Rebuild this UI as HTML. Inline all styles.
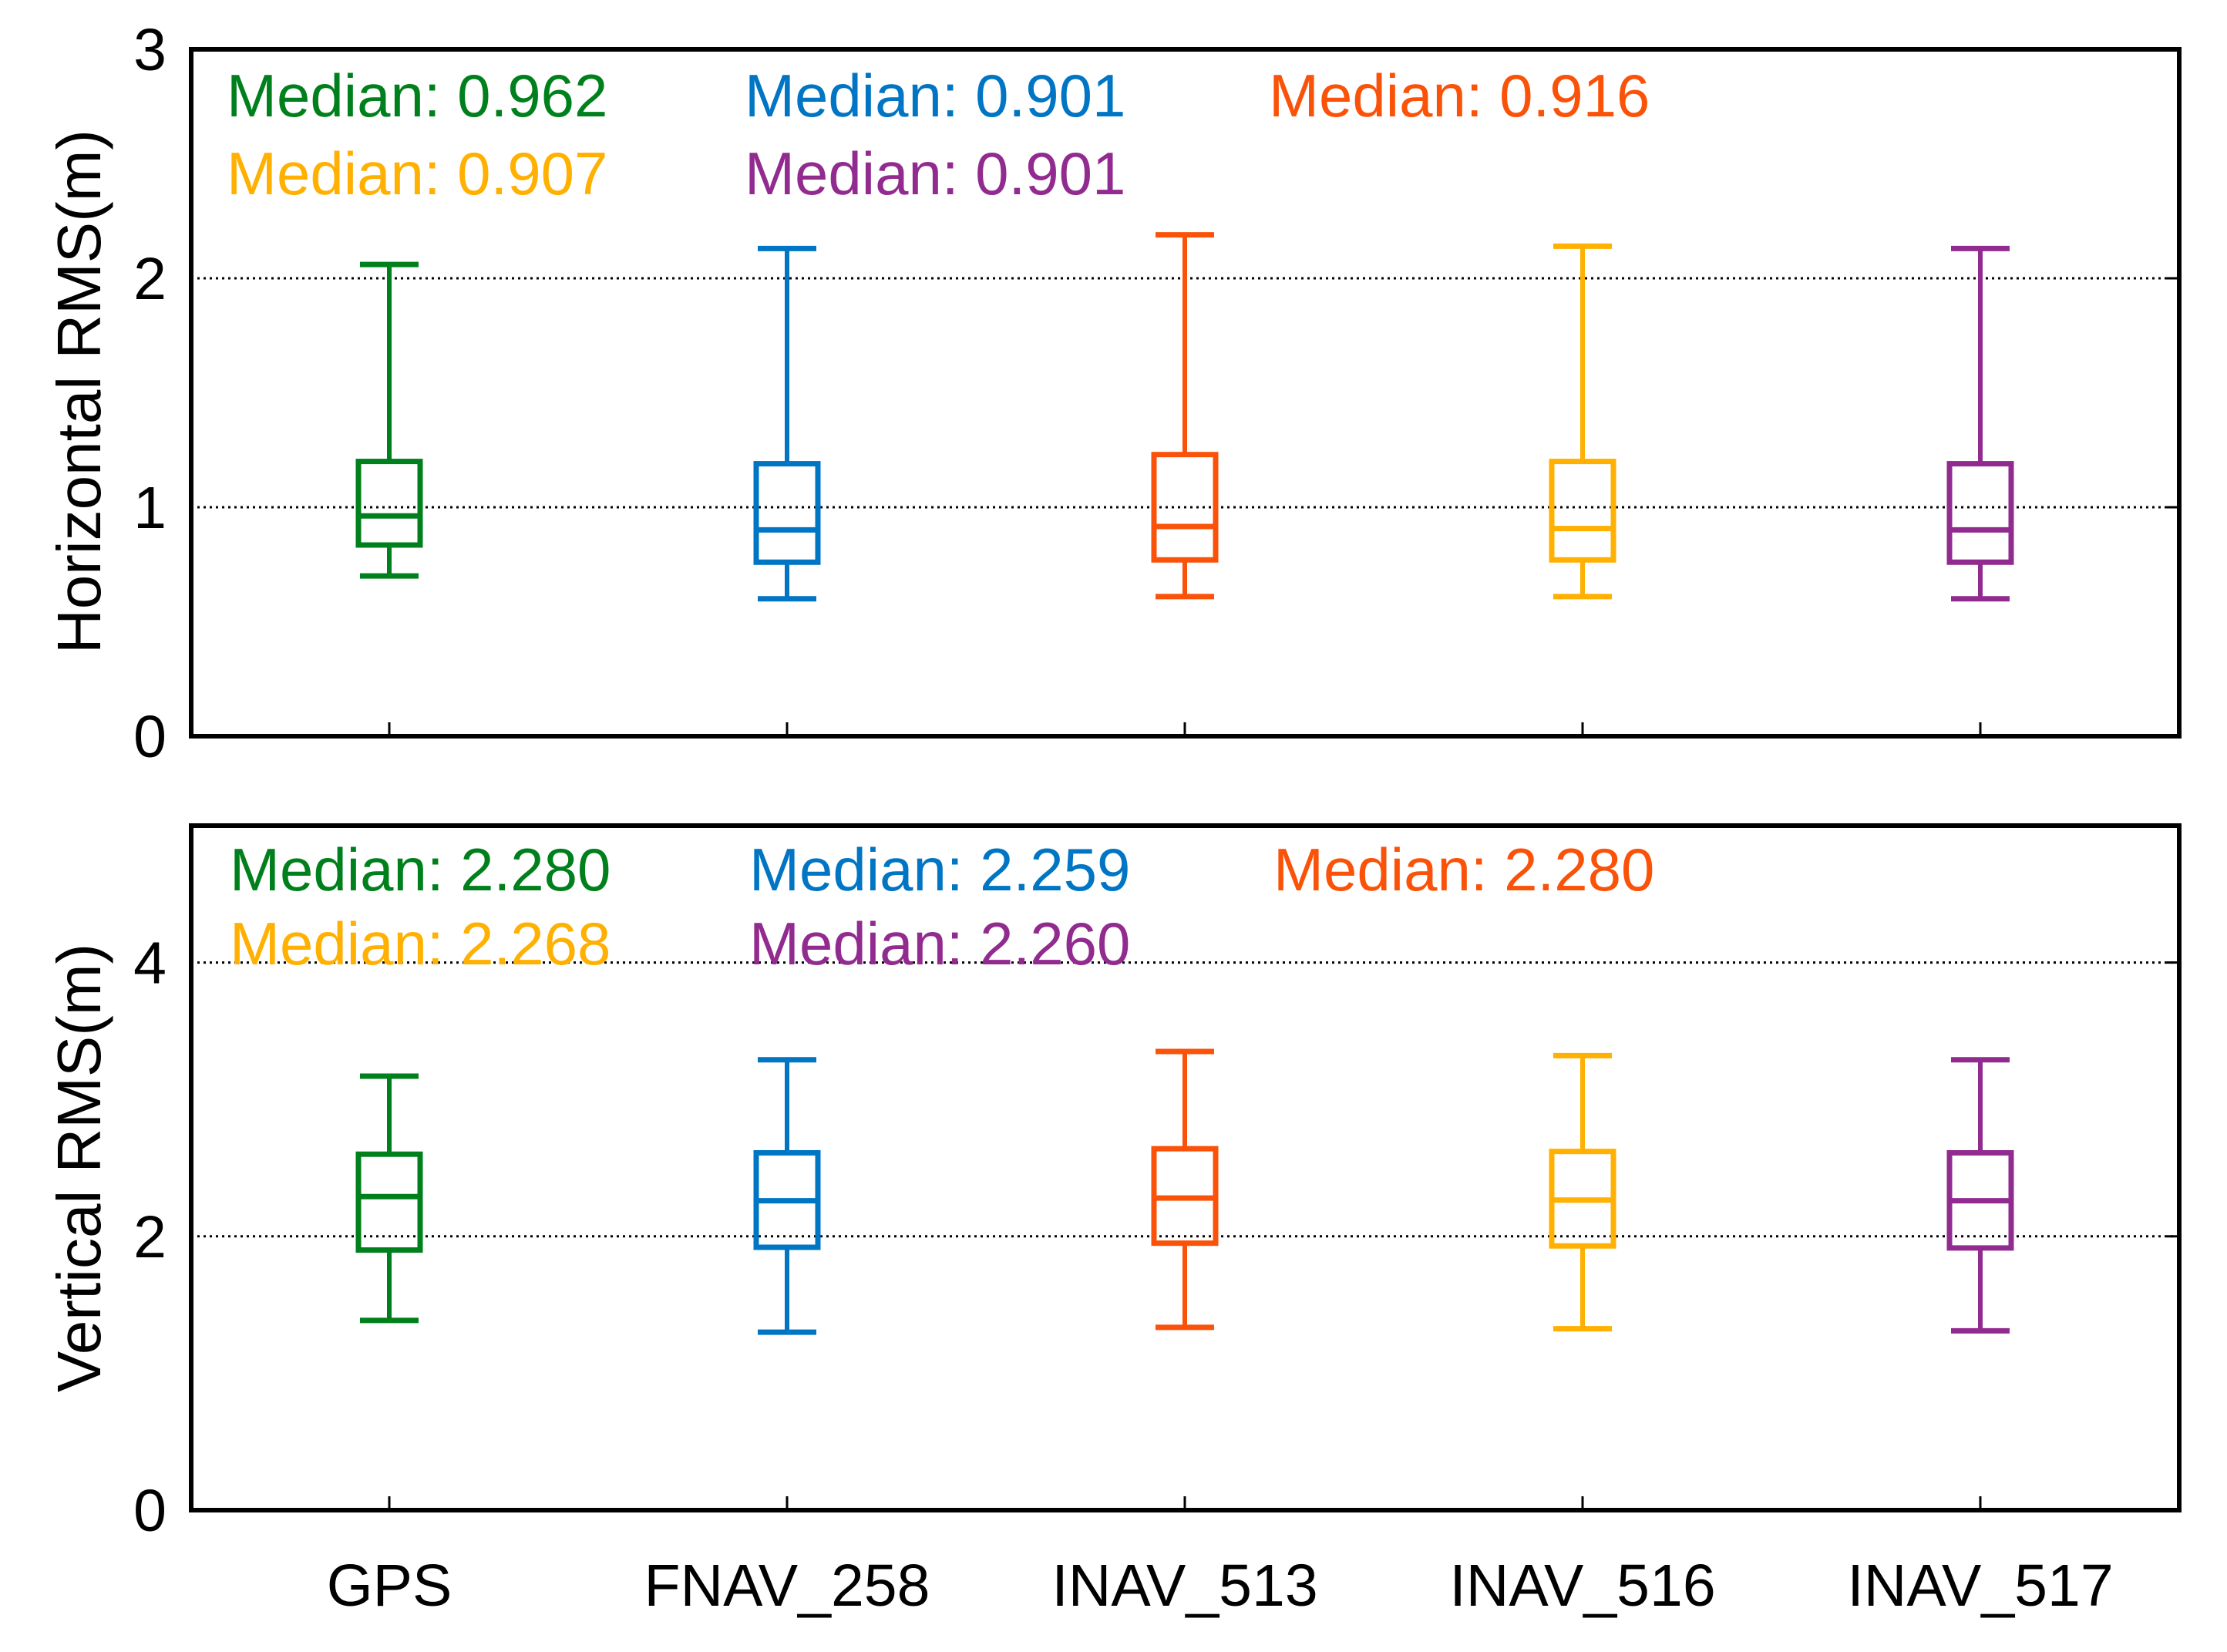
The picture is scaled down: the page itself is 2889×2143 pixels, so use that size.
<!DOCTYPE html>
<html>
<head>
<meta charset="utf-8">
<style>
html,body{margin:0;padding:0;background:#fff;}
svg{display:block;font-family:"Liberation Sans",sans-serif;}
</style>
</head>
<body>
<svg id="chart" width="2889" height="2143" viewBox="0 0 2889 2143" xmlns="http://www.w3.org/2000/svg"></svg>
<script>
const categories = ["GPS", "FNAV_258", "INAV_513", "INAV_516", "INAV_517"];
const colors = ["#00801c", "#0075c4", "#fa5208", "#ffb000", "#922b8f"];
// Horizontal panel
const hWhiskerHigh = [2.06, 2.13, 2.19, 2.14, 2.13];
const hQ3 = [1.20, 1.19, 1.23, 1.20, 1.19];
const hMedian = [0.962, 0.901, 0.916, 0.907, 0.901];
const hQ1 = [0.835, 0.76, 0.77, 0.77, 0.76];
const hWhiskerLow = [0.70, 0.60, 0.61, 0.61, 0.60];
const hTicks = [0, 1, 2, 3];
const hMedianLabels = ["0.962", "0.901", "0.916", "0.907", "0.901"];
// Vertical panel
const vWhiskerHigh = [3.17, 3.29, 3.35, 3.32, 3.29];
const vQ3 = [2.60, 2.61, 2.64, 2.62, 2.61];
const vMedian = [2.29, 2.26, 2.28, 2.265, 2.26];
const vQ1 = [1.90, 1.92, 1.95, 1.93, 1.915];
const vWhiskerLow = [1.386, 1.30, 1.335, 1.325, 1.31];
const vTicks = [0, 2, 4];
const vMedianLabels = ["2.280", "2.259", "2.280", "2.268", "2.260"];

const NS = "http://www.w3.org/2000/svg";
const svg = document.getElementById("chart");
function mk(tag, attrs, parent) {
  const e = document.createElementNS(NS, tag);
  for (const k in attrs) e.setAttribute(k, attrs[k]);
  (parent || svg).appendChild(e);
  return e;
}
const plotL = 248, plotR = 2827;
const xOf = i => 505 + i * 516;

function panel(cfg) {
  const g = mk("g", {});
  
  
  const y = v => cfg.y0 - (v - cfg.min) / (cfg.max - cfg.min) * (cfg.y0 - cfg.yTop);
  cfg.ticks.forEach(t => {
    if (t > cfg.min && t < cfg.max) {
      const l = mk("line", {x1: plotL, x2: plotR, y1: y(t), y2: y(t), stroke: "#000", "stroke-width": 3, "stroke-dasharray": "3 5"}, g);
      
      
      const rt = mk("line", {x1: plotR - 16, x2: plotR, y1: y(t), y2: y(t), stroke: "#000", "stroke-width": 3}, g);
      
      
    }
    const tl = mk("text", {x: 216, y: y(t) + 27, "font-size": 77, "text-anchor": "end", fill: "#000"}, g);
    tl.textContent = t;
    
    
  });
  const fr = mk("rect", {x: plotL, y: cfg.yTop, width: plotR - plotL, height: cfg.y0 - cfg.yTop, fill: "none", stroke: "#000", "stroke-width": 6}, g);
  
  
  categories.forEach((c, i) => {
    const t = mk("line", {x1: xOf(i), x2: xOf(i), y1: cfg.y0, y2: cfg.y0 - 18, stroke: "#000", "stroke-width": 3}, g);
    
    
  });
  categories.forEach((c, i) => {
    const bg = mk("g", {stroke: colors[i], "stroke-width": 6, fill: "none"}, g);
    
    
    const cx = xOf(i);
    mk("line", {x1: cx, x2: cx, y1: y(cfg.hi[i]), y2: y(cfg.q3[i])}, bg);
    mk("line", {x1: cx, x2: cx, y1: y(cfg.q1[i]), y2: y(cfg.lo[i])}, bg);
    mk("line", {x1: cx - 38, x2: cx + 38, y1: y(cfg.hi[i]), y2: y(cfg.hi[i]), "stroke-width": 7}, bg);
    mk("line", {x1: cx - 38, x2: cx + 38, y1: y(cfg.lo[i]), y2: y(cfg.lo[i]), "stroke-width": 7}, bg);
    mk("rect", {x: cx - 40, y: y(cfg.q3[i]), width: 80, height: y(cfg.q1[i]) - y(cfg.q3[i]), "stroke-width": 7}, bg);
    mk("line", {x1: cx - 40, x2: cx + 40, y1: y(cfg.med[i]), y2: y(cfg.med[i]), "stroke-width": 7}, bg);
  });
  const pos = [[0, 0], [1, 0], [2, 0], [0, 1], [1, 1]];
  categories.forEach((c, i) => {
    const [col, row] = pos[i];
    const t = mk("text", {x: cfg.colX[col], y: cfg.textY[row], "font-size": 78, fill: colors[i]}, g);
    t.textContent = "Median: " + cfg.labels[i];
    
    
  });
  const yt = mk("text", {x: 0, y: 0, "font-size": 80, "text-anchor": "middle", fill: "#000", transform: "translate(130," + cfg.titleY + ") rotate(-90)"}, g);
  yt.textContent = cfg.title;
  
  
}

panel({name: "horizontal-panel", yTop: 64, y0: 955, min: 0, max: 3, ticks: hTicks,
  hi: hWhiskerHigh, q3: hQ3, med: hMedian, q1: hQ1, lo: hWhiskerLow,
  labels: hMedianLabels, textY: [151, 252], colX: [294, 966, 1646], title: "Horizontal RMS(m)", titleY: 508});
panel({name: "vertical-panel", yTop: 1071, y0: 1959, min: 0, max: 5, ticks: vTicks,
  hi: vWhiskerHigh, q3: vQ3, med: vMedian, q1: vQ1, lo: vWhiskerLow,
  labels: vMedianLabels, textY: [1155, 1251], colX: [298, 972, 1652], title: "Vertical RMS(m)", titleY: 1515});

categories.forEach((c, i) => {
  const t = mk("text", {x: xOf(i), y: 2083, "font-size": 77, "text-anchor": "middle", fill: "#000"});
  t.textContent = c;
  
  
});
</script>
</body>
</html>
